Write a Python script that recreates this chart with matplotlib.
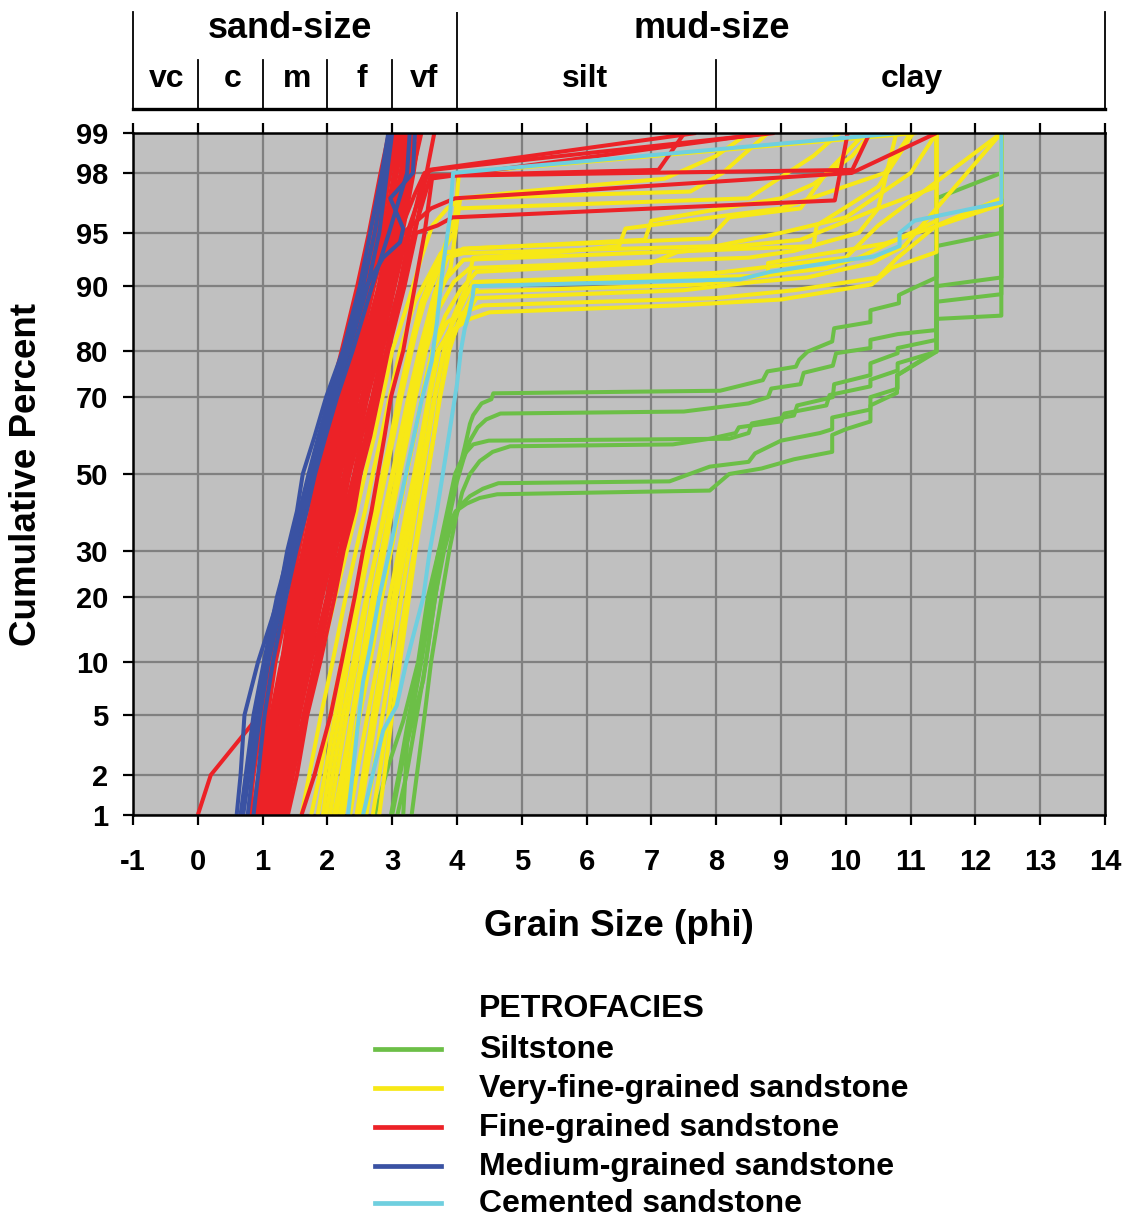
import math
import numpy as np
import matplotlib
matplotlib.use('Agg')
import matplotlib.pyplot as plt
from matplotlib.lines import Line2D
from matplotlib.ticker import NullLocator

plt.rcParams['font.family'] = ['Liberation Sans', 'DejaVu Sans']
plt.rcParams['font.weight'] = 'bold'
plt.rcParams['axes.unicode_minus'] = False

# ---------------- data ----------------
PCT = [1, 2, 5, 10, 20, 30, 40, 50, 60, 70, 80, 90, 95, 98, 99]
YTICKS = [1, 2, 5, 10, 20, 30, 50, 70, 80, 90, 95, 98, 99]
XTICKS = list(range(-1, 15))

# fine-grained sandstone: phi at PCT levels (13 values -> tail follows)
red_phi = [
    [0.00, 0.20, 0.95, 1.12, 1.32, 1.50, 1.63, 1.76, 1.90, 2.04, 2.22, 2.46, 2.64, 2.82, 2.95],
    [0.80, 0.86, 1.00, 1.18, 1.36, 1.49, 1.66, 1.75, 1.91, 2.03, 2.24, 2.50, 2.66, 2.86, 2.98],
    [0.84, 0.94, 1.08, 1.20, 1.42, 1.56, 1.68, 1.84, 1.95, 2.12, 2.27, 2.56, 2.74, 2.91, 3.01],
    [0.88, 0.96, 1.14, 1.30, 1.44, 1.63, 1.76, 1.86, 2.02, 2.14, 2.35, 2.58, 2.78, 2.96, 3.04],
    [0.90, 1.03, 1.13, 1.29, 1.52, 1.64, 1.81, 1.93, 2.04, 2.21, 2.37, 2.63, 2.81, 2.97, 3.12],
    [0.95, 1.04, 1.22, 1.36, 1.54, 1.72, 1.82, 1.97, 2.09, 2.22, 2.42, 2.65, 2.86, 3.03, 3.11],
    [0.98, 1.09, 1.21, 1.39, 1.60, 1.71, 1.87, 1.98, 2.13, 2.27, 2.44, 2.71, 2.87, 3.06, 3.17],
    [1.02, 1.11, 1.27, 1.41, 1.59, 1.77, 1.89, 2.03, 2.14, 2.31, 2.49, 2.72, 2.92, 3.07, 3.19],
    [1.04, 1.16, 1.29, 1.46, 1.66, 1.79, 1.95, 2.05, 2.21, 2.33, 2.53, 2.79, 2.94, 3.13, 3.21],
    [1.07, 1.17, 1.33, 1.47, 1.67, 1.85, 1.97, 2.11, 2.23, 2.39, 2.55, 2.81, 2.99, 3.14, 3.26],
    [1.10, 1.21, 1.34, 1.53, 1.73, 1.87, 2.03, 2.13, 2.29, 2.41, 2.61, 2.84, 3.03, 3.21, 3.29],
    [1.12, 1.22, 1.39, 1.54, 1.76, 1.91, 2.04, 2.19, 2.30, 2.46, 2.62, 2.89, 3.04, 3.22, 3.33],
    [1.15, 1.26, 1.40, 1.59, 1.77, 1.95, 2.09, 2.20, 2.35, 2.47, 2.67, 2.91, 3.09, 3.26, 3.34],
    [1.17, 1.28, 1.46, 1.61, 1.83, 1.97, 2.11, 2.26, 2.37, 2.53, 2.69, 2.96, 3.11],
    [1.20, 1.31, 1.47, 1.66, 1.84, 2.03, 2.17, 2.27, 2.43, 2.55, 2.75, 2.97, 3.16, 3.33, 3.42],
    [1.22, 1.35, 1.51, 1.67, 1.91, 2.05, 2.19, 2.33, 2.45, 2.61, 2.77, 3.03, 3.17],
    [1.26, 1.36, 1.53, 1.71, 1.92, 2.09, 2.23, 2.34, 2.49, 2.62, 2.81, 3.04, 3.23],
    [1.29, 1.41, 1.57, 1.75, 1.99, 2.13, 2.27, 2.41, 2.53, 2.69, 2.85, 3.11, 3.27],
    [1.33, 1.44, 1.63, 1.81, 2.01, 2.19, 2.31, 2.44, 2.59, 2.71, 2.91, 3.13, 3.33],
    [1.39, 1.53, 1.69, 1.89, 2.11, 2.25, 2.41, 2.51, 2.66, 2.79, 2.94, 3.19, 3.37],
    [1.60, 1.80, 2.05, 2.22, 2.42, 2.55, 2.68, 2.78, 2.88, 2.98, 3.17, 3.35, 3.50],
    [1.00, 1.07, 1.19, 1.33, 1.52, 1.66, 1.79, 1.90, 2.03, 2.18, 2.36, 2.60, 2.77, 2.95, 3.06],
    [1.08, 1.14, 1.30, 1.44, 1.62, 1.76, 1.91, 2.01, 2.16, 2.28, 2.46, 2.70, 2.89, 3.04, 3.15],
    [1.13, 1.24, 1.36, 1.51, 1.71, 1.83, 1.99, 2.10, 2.24, 2.38, 2.57, 2.82, 2.98, 3.17, 3.24],
    [1.18, 1.27, 1.42, 1.57, 1.78, 1.93, 2.06, 2.17, 2.32, 2.44, 2.64, 2.87, 3.06, 3.24, 3.37],
    [0.93, 1.01, 1.16, 1.31, 1.48, 1.62, 1.74, 1.88, 1.99, 2.13, 2.31, 2.55, 2.72, 2.90, 3.00],
    [1.24, 1.33, 1.49, 1.64, 1.86, 1.99, 2.14, 2.29, 2.40, 2.56, 2.73, 2.99, 3.14, 3.31, 3.45],
    [1.35, 1.47, 1.66, 1.84, 2.05, 2.22, 2.36, 2.48, 2.62, 2.75, 2.92, 3.16, 3.35, 3.53, 3.65],
]
# tails (phi, percent) of fine-grained curves running into the mud fraction
red_tails = {
    13: [(3.35, 97.2), (3.50, 98.0), (3.62, 98.1), (8.90, 99.0)],
    15: [(3.60, 96.5), (3.97, 97.0), (10.09, 98.0), (11.40, 99.0)],
    16: [(3.45, 97.3), (3.57, 98.1), (7.69, 99.0)],
    17: [(3.48, 97.9), (7.11, 98.1), (7.51, 99.0)],
    18: [(3.58, 97.8), (8.80, 99.0)],
    19: [(3.70, 95.5), (3.93, 96.0), (9.83, 96.9), (10.03, 99.0)],
    20: [(3.62, 97.9), (10.10, 98.1), (10.37, 99.0)],
}

# medium-grained sandstone
blue_phi = [
    [0.60, 0.66, 0.72, 0.93, 1.25, 1.38, 1.53, 1.62, 1.80, 1.98, 2.24, 2.50, 2.66, 2.84, 2.94],
    [0.66, 0.74, 0.86, 1.02, 1.22, 1.41, 1.57, 1.71, 1.86, 2.03, 2.28, 2.55, 2.73, 2.88, 2.97],
    [0.77, 0.84, 0.96, 1.09, 1.31, 1.47, 1.63, 1.77, 1.93, 2.10, 2.33, 2.62, 2.80, 2.92, 3.00],
    [0.70, 0.79, 0.91, 1.06, 1.28, 1.45, 1.60, 1.74, 1.89, 2.06, 2.30, 2.60],
    [0.86, 0.93, 1.03, 1.16, 1.36, 1.52, 1.68, 1.81, 1.97, 2.15, 2.39, 2.69, 2.95, 3.23, 3.27],
]
blue_tails = {
    3: [(2.86, 93.0), (3.12, 94.3), (3.17, 95.3), (2.97, 97.0), (3.32, 98.0), (3.35, 99.0)],
}

# very-fine-grained sandstone: phi at 1..80 %, then upper part as (phi, percent)
yellow_phi = [
    [1.29, 1.42, 1.65, 1.88, 2.12, 2.30, 2.45, 2.58, 2.72, 2.85, 3.00],
    [1.60, 1.72, 1.90, 2.08, 2.28, 2.44, 2.58, 2.70, 2.83, 2.96, 3.12],
    [1.93, 2.02, 2.18, 2.32, 2.50, 2.64, 2.76, 2.88, 3.00, 3.12, 3.28],
    [2.04, 2.14, 2.30, 2.45, 2.62, 2.76, 2.88, 3.00, 3.12, 3.25, 3.42],
    [2.14, 2.25, 2.40, 2.56, 2.74, 2.88, 3.00, 3.12, 3.24, 3.36, 3.52],
    [2.24, 2.35, 2.50, 2.66, 2.84, 2.98, 3.10, 3.22, 3.34, 3.46, 3.62],
    [2.45, 2.55, 2.70, 2.85, 3.02, 3.15, 3.27, 3.38, 3.48, 3.58, 3.72],
    [1.75, 1.88, 2.05, 2.22, 2.42, 2.58, 2.72, 2.85, 2.98, 3.10, 3.26],
    [2.60, 2.70, 2.85, 2.98, 3.14, 3.26, 3.36, 3.46, 3.56, 3.66, 3.80],
    [2.80, 2.88, 3.00, 3.12, 3.26, 3.36, 3.46, 3.55, 3.64, 3.73, 3.86],
    [2.20, 2.30, 2.48, 2.64, 2.84, 2.98, 3.10, 3.22, 3.34, 3.46, 3.62],
    [2.35, 2.45, 2.62, 2.78, 2.96, 3.10, 3.22, 3.34, 3.45, 3.56, 3.70],
    [1.98, 2.08, 2.24, 2.40, 2.60, 2.76, 2.90, 3.02, 3.15, 3.28, 3.45],
    [2.50, 2.60, 2.75, 2.90, 3.06, 3.20, 3.32, 3.43, 3.54, 3.65, 3.80],
    [2.10, 2.22, 2.38, 2.52, 2.70, 2.84, 2.96, 3.08, 3.20, 3.32, 3.48],
    [2.70, 2.80, 2.94, 3.06, 3.22, 3.34, 3.44, 3.54, 3.64, 3.74, 3.88],
    [1.85, 1.96, 2.12, 2.28, 2.48, 2.64, 2.78, 2.90, 3.02, 3.14, 3.30],
]
yellow_tails = [
    [(3.25, 88), (3.45, 93), (3.62, 95.5), (3.85, 96.5), (4.05, 97), (7.6, 97.3), (8.1, 98), (8.8, 99)],
    [(3.35, 88), (3.55, 91), (3.75, 93.4), (4.2, 93.8), (6.9, 94.5), (7.0, 95.8), (9.0, 97), (9.5, 97.6), (10.1, 98.5), (10.4, 99)],
    [(3.50, 88), (3.70, 91.5), (3.85, 93), (4.10, 93.4), (8.0, 94), (9.0, 95), (10.0, 96), (11.0, 98), (11.4, 99)],
    [(3.62, 88), (3.85, 91), (4.1, 92.8), (9.5, 94), (9.55, 95.5), (10.5, 97.5), (11.04, 99)],
    [(3.72, 87), (3.95, 90.5), (4.2, 92), (8.5, 93), (9.2, 93.6), (10.2, 95), (10.5, 96.5), (10.78, 99)],
    [(3.82, 86), (4.05, 89.5), (4.3, 91.6), (7.0, 92.5), (7.4, 93.5), (9.3, 94.5), (10.5, 96.5), (11.4, 97.5), (11.4, 99.9)],
    [(3.9, 84), (4.1, 88), (4.25, 90.5), (8.8, 91.2), (8.8, 92.5), (10.6, 94.2), (12.4, 96.7), (12.4, 99.9)],
    [(3.45, 88), (3.7, 92), (4.0, 96.5), (8.5, 97), (9.5, 98.5), (9.9, 99)],
    [(3.98, 84), (4.15, 87), (4.25, 89.3), (7.8, 90.2), (8.5, 91), (9.7, 92), (10.2, 93), (11.4, 95.8), (11.4, 99.9)],
    [(4.0, 84), (4.2, 87), (4.3, 88.5), (7.5, 89.5), (8.6, 90.5), (9.4, 91), (10.4, 92.5), (10.9, 94), (12.4, 99)],
    [(3.85, 85), (4.1, 86.5), (4.4, 87.5), (8.0, 88.5), (9.2, 89.5), (10.5, 91), (10.8, 93), (11.4, 95.5), (12.4, 97), (12.4, 99.9)],
    [(3.9, 83.5), (4.2, 85.5), (4.5, 86.5), (7.4, 87.5), (9.0, 88.3), (10.4, 90.2), (10.7, 92), (11.4, 93.5), (11.4, 99.9)],
    [(3.65, 89), (3.85, 93), (4.1, 93.8), (7.9, 94.6), (8.2, 96), (9.3, 96.5), (9.7, 98), (10.3, 99)],
    [(3.95, 86), (4.15, 90), (4.25, 93), (5.2, 93.3), (6.5, 94), (6.6, 95.3), (9.0, 96.5), (10.6, 98), (11.0, 99)],
    [(3.68, 88), (3.9, 92), (4.05, 97), (5.0, 97.3), (7.2, 97.8), (8.0, 98.5), (8.5, 99)],
    [(4.02, 85), (4.2, 88), (4.35, 90.5), (8.0, 91.5), (10.0, 93), (10.5, 95.5), (12.4, 99)],
    [(3.5, 89), (3.72, 93), (3.95, 95), (4.03, 98), (11.1, 99)],
]

# siltstone
green_phi = [
    [2.73, 2.95, 3.17, 3.40, 3.55, 3.72, 3.85, 3.97, 4.07, 4.12, 4.20, 4.25, 4.38, 4.53, 4.56,
     8.06, 8.72, 8.79, 9.23, 9.28, 9.41, 9.79, 9.82, 10.38, 10.38, 10.82, 10.82, 11.08, 11.40, 11.40, 12.40, 12.40],
    [3.00, 3.12, 3.30, 3.45, 3.62, 3.78, 3.90, 4.00, 4.10, 4.20, 4.32, 4.45, 4.67,
     7.50, 8.00, 8.50, 8.80, 8.85, 9.30, 9.35, 9.80, 9.85, 10.38, 10.38, 10.80, 11.40, 11.40, 12.40, 12.40],
    [3.17, 3.23, 3.32, 3.48, 3.58, 3.72, 3.84, 3.93, 4.02, 4.12, 4.25, 4.49,
     8.20, 8.50, 8.55, 9.20, 9.25, 9.80, 9.82, 10.38, 10.38, 10.80, 10.80, 11.40, 11.40, 12.40, 12.40],
    [3.30, 3.38, 3.50, 3.60, 3.76, 3.88, 3.98, 4.08, 4.20, 4.35, 4.55, 4.82,
     7.33, 7.90, 8.30, 8.35, 9.00, 9.05, 9.70, 9.75, 10.38, 10.38, 10.80, 10.80, 11.40, 11.40, 12.40, 12.40],
    [3.08, 3.22, 3.38, 3.52, 3.66, 3.80, 3.92, 4.05, 4.20, 4.40, 4.64,
     7.28, 7.90, 8.50, 8.60, 9.00, 9.60, 9.79, 9.79, 10.38, 10.38, 10.80, 10.80, 11.40, 11.40, 12.40, 12.40],
    [2.98, 3.10, 3.26, 3.42, 3.58, 3.72, 3.86, 3.98, 4.15, 4.35, 4.62,
     7.90, 8.20, 8.70, 9.20, 9.79, 9.79, 10.00, 10.38, 10.38, 10.79, 10.79, 11.40, 11.40],
]
green_pct = [
    [1, 2.4, 4.6, 10, 20, 30, 40, 50, 53.8, 57.3, 63.4, 65.6, 68.5, 69.5, 70.9,
     71.5, 73.9, 75.8, 76.8, 78.2, 79.8, 81.7, 84, 85, 86.8, 87.8, 88.9, 89.9, 91, 97, 98, 99.9],
    [1, 2, 5, 10, 20, 30, 40, 48, 54, 59, 62.5, 64.5, 66,
     66.5, 67.5, 68.5, 70, 72, 73, 75.5, 77, 79.5, 80.5, 82, 83, 83.7, 94, 95, 99.9],
    [1, 3.3, 4.7, 8, 13.7, 25, 35, 44, 51, 55.5, 58, 59,
     59.5, 61, 63.5, 65.5, 68, 70, 73, 75, 77.5, 79.5, 80.5, 82, 90, 91, 99.9],
    [1, 2, 5, 10, 20, 30, 38, 45, 50, 53.5, 56, 57.5,
     58, 59.5, 61, 62.5, 64, 66, 68, 70.5, 72.5, 74, 76, 77.5, 79.8, 88, 89, 99.9],
    [1, 2, 5, 10, 20, 30, 37, 41.5, 44, 46, 47.5,
     48, 52, 53.3, 55.6, 59, 61, 62, 65, 67, 70, 72, 75, 79.8, 85.5, 86, 99.9],
    [1, 2, 5, 10, 20, 30, 36, 40, 42, 43.5, 44.5,
     45.5, 50, 51.5, 54, 56, 60.5, 62, 64, 68, 71, 75, 80, 99.9],
]

# cemented sandstone
cyan_phi = [
    [2.32, 2.46, 2.55, 2.66, 2.80, 3.00, 3.20, 3.45, 3.61, 3.69, 3.78, 3.89, 3.94, 10.83],
    [2.55, 2.86, 3.07, 3.22, 3.48, 3.58, 3.69, 3.84, 4.00, 4.06, 4.12, 4.18, 4.24, 4.26,
     8.37, 8.83, 10.03, 10.43, 10.83, 10.83, 11.06, 12.40, 12.40],
]
cyan_pct = [
    [1, 4, 7.8, 11.8, 20, 33, 49, 69, 78, 85, 92, 96, 98, 99],
    [1, 4, 5.7, 10, 20, 30, 40, 56.5, 73, 80, 84, 86, 88.6, 90,
     90.8, 91.6, 92.8, 93.1, 94, 95, 95.8, 96.8, 99.9],
]

GREEN, YELLOW, RED, BLUE, CYAN = '#6cbf47', '#f7e816', '#ec2227', '#3a52a3', '#6fcfdf'
LEGEND_LABELS = ['Siltstone', 'Very-fine-grained sandstone', 'Fine-grained sandstone',
                 'Medium-grained sandstone', 'Cemented sandstone']
LEGEND_COLORS = [GREEN, YELLOW, RED, BLUE, CYAN]

SIZE_CLASSES = ['vc', 'c', 'm', 'f', 'vf', 'silt', 'clay']
SIZE_CENTERS = [-0.48, 0.53, 1.53, 2.53, 3.49, 5.98, 11.02]
SIZE_BOUNDS = [0, 1, 2, 3, 8]
GROUPS = ['sand-size', 'mud-size']
GROUP_CENTERS = [1.42, 7.93]


# ---------------- probability scale ----------------
_a = [-3.969683028665376e+01, 2.209460984245205e+02, -2.759285104469687e+02,
      1.383577518672690e+02, -3.066479806614716e+01, 2.506628277459239e+00]
_b = [-5.447609879822406e+01, 1.615858368580409e+02, -1.556989798598866e+02,
      6.680131188771972e+01, -1.328068155288572e+01, 1.0]
_c = [-7.784894002430293e-03, -3.223964580411365e-01, -2.400758277161838e+00,
      -2.549671010429057e+00, 4.374664141464968e+00, 2.938163982698783e+00]
_d = [7.784695709041462e-03, 3.224671290700398e-01, 2.445134137142996e+00,
      3.754408661907416e+00, 1.0]


def probit(p):
    p = np.atleast_1d(np.asarray(p, dtype=float))
    out = np.empty_like(p)
    lo = p < 0.02425
    hi = p > 1 - 0.02425
    mid = ~(lo | hi)
    q = np.sqrt(-2 * np.log(p[lo]))
    out[lo] = np.polyval(_c, q) / np.polyval(_d, q)
    q = p[mid] - 0.5
    r = q * q
    out[mid] = np.polyval(_a, r) * q / np.polyval(_b, r)
    q = np.sqrt(-2 * np.log(1 - p[hi]))
    out[hi] = -np.polyval(_c, q) / np.polyval(_d, q)
    return out


_erf = np.vectorize(math.erf, otypes=[float])


def fwd(v):
    v = np.asarray(v, dtype=float)
    p = np.clip(v / 100.0, 1e-9, 1 - 1e-9)
    return probit(p).reshape(v.shape)


def inv(z):
    z = np.asarray(z, dtype=float)
    return 50.0 * (1 + _erf(z / math.sqrt(2)))


# ---------------- figure ----------------
W, H = 1128, 1220
fig = plt.figure(figsize=(W / 100, H / 100), dpi=100)
L, R, T, B = 133, 1105, 133, 815
ax = fig.add_axes([L / W, 1 - B / H, (R - L) / W, (B - T) / H])
ax.set_yscale('function', functions=(fwd, inv))
ax.set_facecolor('#c0c0c0')
ax.set_axisbelow(True)

LW = 2.9


def draw(xs, ys, color):
    ax.plot(xs, ys, color=color, lw=LW, solid_joinstyle='round', solid_capstyle='butt')


for xs, ys in zip(green_phi, green_pct):
    draw(xs, ys, GREEN)

for low, tail in zip(yellow_phi, yellow_tails):
    draw(low + [t[0] for t in tail], PCT[:len(low)] + [t[1] for t in tail], YELLOW)

for i, low in enumerate(red_phi):
    tail = red_tails.get(i, [])
    draw(low + [t[0] for t in tail], PCT[:len(low)] + [t[1] for t in tail], RED)

for i, low in enumerate(blue_phi):
    tail = blue_tails.get(i, [])
    draw(low + [t[0] for t in tail], PCT[:len(low)] + [t[1] for t in tail], BLUE)

for xs, ys in zip(cyan_phi, cyan_pct):
    draw(xs, ys, CYAN)

ax.set_xlim(-1, 14)
ax.set_ylim(1, 99)
ax.set_xticks(XTICKS)
ax.set_xticklabels([str(v) for v in XTICKS])
ax.set_yticks(YTICKS)
ax.set_yticklabels([str(v) for v in YTICKS])
ax.yaxis.set_minor_locator(NullLocator())
ax.xaxis.set_minor_locator(NullLocator())
ax.grid(True, color='#808080', lw=1.6)
ax.tick_params(axis='both', direction='out', length=7, width=1.6, labelsize=21,
               top=True, right=False)
ax.tick_params(axis='x', pad=16.5)
ax.tick_params(axis='y', pad=11)
for s in ax.spines.values():
    s.set_linewidth(1.8)

ax.set_xlabel('Grain Size (phi)', fontsize=26.5, fontweight='bold', va='center')
ax.xaxis.set_label_coords(0.5, (B - 927) / (B - T))
ax.set_ylabel('Cumulative Percent', fontsize=26.5, fontweight='bold', va='center')
ax.yaxis.set_label_coords((27 - L) / (R - L), 0.5)

# grain-size class header
axh = fig.add_axes([L / W, 1 - 109 / H, (R - L) / W, 97 / H])
axh.set_xlim(-1, 14)
axh.set_ylim(0, 1)
axh.set_xticks([])
axh.set_yticks([])
axh.patch.set_alpha(0)
axh.spines['top'].set_visible(False)
axh.spines['bottom'].set_linewidth(2.4)
axh.spines['left'].set_linewidth(1.3)
axh.spines['right'].set_linewidth(1.3)
axh.axvline(4, color='k', lw=1.3)
for bnd in SIZE_BOUNDS:
    axh.axvline(bnd, ymin=0, ymax=0.505, color='k', lw=1.3)
for name, cx in zip(GROUPS, GROUP_CENTERS):
    axh.text(cx, 0.835, name, ha='center', va='center', fontsize=26, fontweight='bold')
for name, cx in zip(SIZE_CLASSES, SIZE_CENTERS):
    axh.text(cx, 0.31, name, ha='center', va='center', fontsize=23, fontweight='bold')

# legend
fig.text(479 / W, 1 - 1009 / H, 'PETROFACIES', ha='left', va='center',
         fontsize=23, fontweight='bold')
rows = [1049, 1088, 1127, 1166, 1203]
for yy, lab, col in zip(rows, LEGEND_LABELS, LEGEND_COLORS):
    fy = 1 - yy / H
    fig.add_artist(Line2D([375 / W, 441 / W], [fy, fy], transform=fig.transFigure,
                          color=col, lw=3.4))
    fig.text(479 / W, 1 - (yy + 1) / H, lab, ha='left', va='center',
             fontsize=23, fontweight='bold')

fig.savefig('out.png', dpi=100)
